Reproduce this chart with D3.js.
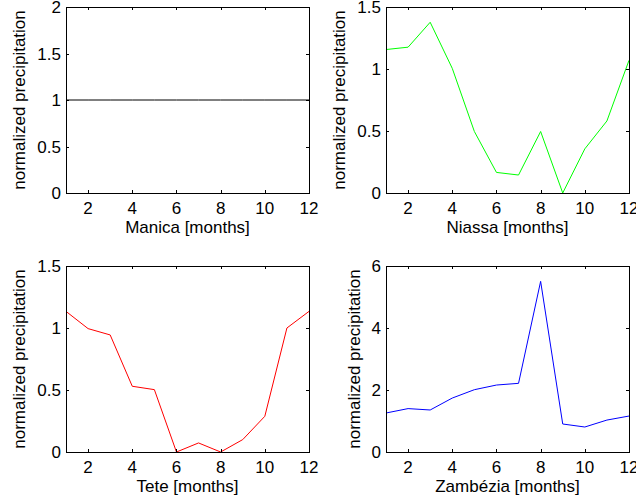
<!DOCTYPE html>
<html>
<head>
<meta charset="utf-8">
<script src="https://cdn.jsdelivr.net/npm/d3@7"></script>
<style>
  body { margin: 0; background: #fff; }
  svg { display: block; }
  text { font-family: "Liberation Sans", Arial, Helvetica, sans-serif; fill: #000; }
</style>
</head>
<body>
<svg id="fig" width="636" height="501"></svg>
<script>
// months on the x axis
var months = [1, 2, 3, 4, 5, 6, 7, 8, 9, 10, 11, 12];
var xTicks = [2, 4, 6, 8, 10, 12];

// normalized precipitation per province
var manica   = [1, 1, 1, 1, 1, 1, 1, 1, 1, 1, 1, 1];
var niassa   = [1.157, 1.176, 1.377, 1.005, 0.496, 0.166, 0.145, 0.496, 0, 0.356, 0.581, 1.07];
var tete     = [1.134, 0.995, 0.944, 0.530, 0.503, 0, 0.073, 0, 0.1, 0.288, 1.0, 1.134];
var zambezia = [1.258, 1.40, 1.355, 1.74, 2.01, 2.16, 2.215, 5.505, 0.903, 0.806, 1.03, 1.16];

var names  = ["Manica", "Niassa", "Tete", "Zambézia"];
var series = [manica, niassa, tete, zambezia];
var yMax   = [2, 1.5, 1.5, 6];
var yTicks = [[0, 0.5, 1, 1.5, 2], [0, 0.5, 1, 1.5], [0, 0.5, 1, 1.5], [0, 2, 4, 6]];
var colors = ["#000000", "#00ff00", "#ff0000", "#0000ff"];

// panel boxes in pixels
var boxes = [
  {x0: 66,  x1: 309, y0: 7,   y1: 193, labX: 25},
  {x0: 386, x1: 629, y0: 7,   y1: 193, labX: 345},
  {x0: 66,  x1: 309, y0: 266, y1: 452, labX: 25},
  {x0: 386, x1: 629, y0: 266, y1: 452, labX: 360}
];

var svg = d3.select("#fig");
var fs = 17, tickLen = 3;

boxes.forEach(function(b, i) {
  var x = d3.scaleLinear().domain([1, 12]).range([b.x0, b.x1]);
  var y = d3.scaleLinear().domain([0, yMax[i]]).range([b.y1, b.y0]);
  var g = svg.append("g");

  // line
  var line = d3.line()
      .x(function(d, j) { return x(months[j]); })
      .y(function(d) { return y(d); });
  g.append("path")
    .datum(series[i])
    .attr("fill", "none")
    .attr("stroke", colors[i])
    .attr("stroke-width", 1)
    .attr("d", line);

  // inward ticks on all four sides
  xTicks.forEach(function(t) {
    var px = Math.round(x(t)) + 0.5;
    g.append("line").attr("x1", px).attr("x2", px).attr("y1", b.y1).attr("y2", b.y1 - tickLen)
      .attr("stroke", "#000");
    g.append("line").attr("x1", px).attr("x2", px).attr("y1", b.y0).attr("y2", b.y0 + tickLen)
      .attr("stroke", "#000");
    g.append("text").attr("x", x(t)).attr("y", b.y1 + 21)
      .attr("text-anchor", "middle").attr("font-size", fs).text(t);
  });
  yTicks[i].forEach(function(t) {
    var py = Math.round(y(t)) + 0.5;
    g.append("line").attr("x1", b.x0).attr("x2", b.x0 + tickLen).attr("y1", py).attr("y2", py)
      .attr("stroke", "#000");
    g.append("line").attr("x1", b.x1).attr("x2", b.x1 - tickLen).attr("y1", py).attr("y2", py)
      .attr("stroke", "#000");
    g.append("text").attr("x", b.x0 - 5).attr("y", y(t) + 6)
      .attr("text-anchor", "end").attr("font-size", fs).text(String(t));
  });

  // box
  g.append("rect")
    .attr("x", b.x0 + 0.5).attr("y", b.y0 + 0.5)
    .attr("width", b.x1 - b.x0).attr("height", b.y1 - b.y0)
    .attr("fill", "none").attr("stroke", "#000");

  // axis labels
  g.append("text")
    .attr("x", (b.x0 + b.x1) / 2).attr("y", b.y1 + 40)
    .attr("text-anchor", "middle").attr("font-size", fs)
    .text(names[i] + " [months]");
  g.append("text")
    .attr("transform", "translate(" + b.labX + "," + (b.y0 + b.y1) / 2 + ") rotate(-90)")
    .attr("text-anchor", "middle").attr("font-size", fs)
    .text("normalized precipitation");
});
</script>
</body>
</html>
